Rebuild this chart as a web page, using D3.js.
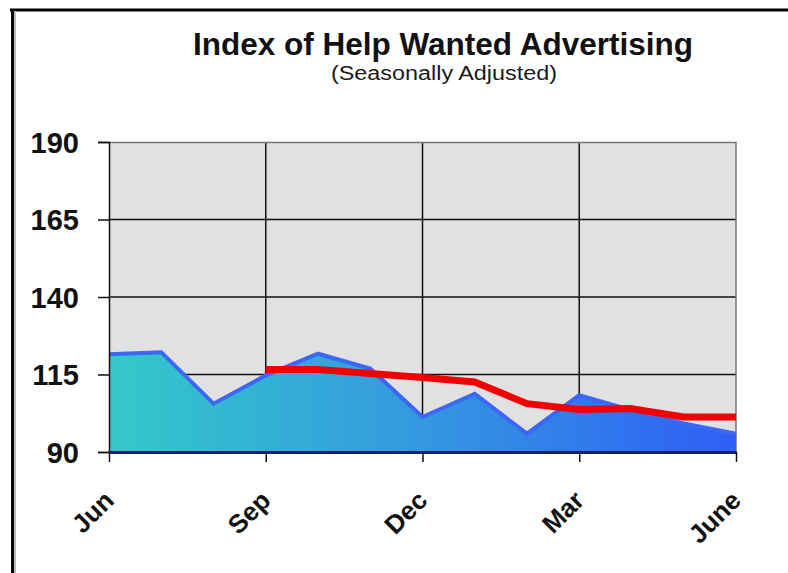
<!DOCTYPE html>
<html>
<head>
<meta charset="utf-8">
<script src="https://cdn.jsdelivr.net/npm/d3@7"></script>
<style>
  body { margin: 0; background: #fff; }
  svg { display: block; }
</style>
</head>
<body>
<script>
// Monthly index values, June through the following June
const months = ["Jun", "Jul", "Aug", "Sep", "Oct", "Nov", "Dec", "Jan", "Feb", "Mar", "Apr", "May", "June"];
const helpWanted = [121.5, 122.2, 105.6, 114.7, 121.7, 116.9, 101.3, 108.8, 95.9, 108.3, 103.5, 99.2, 95.9];

// Smoothed trend, starting in September
const trendMonths = ["Sep", "Oct", "Nov", "Dec", "Jan", "Feb", "Mar", "Apr", "May", "June"];
const trend = [116.6, 116.6, 115.3, 114.0, 112.6, 105.6, 103.7, 104.0, 101.3, 101.3];

// Axis labels
const xTickLabels = ["Jun", "Sep", "Dec", "Mar", "June"];
const yTickValues = [90, 115, 140, 165, 190];

const W = 788, H = 573;
const margin = { left: 109, right: 52, top: 142, bottom: 121 };
const plotW = W - margin.left - margin.right;
const plotH = H - margin.top - margin.bottom;
const FONT = "'Liberation Sans', Arial, sans-serif";

const svg = d3.select("body").append("svg")
  .attr("width", W).attr("height", H)
  .style("font-family", FONT);

// Frame lines along the top and left edges
svg.append("line").attr("x1", 10).attr("x2", W).attr("y1", 10).attr("y2", 10)
  .attr("stroke", "#000").attr("stroke-width", 3);
svg.append("line").attr("x1", 12.5).attr("x2", 12.5).attr("y1", 9).attr("y2", H)
  .attr("stroke", "#000").attr("stroke-width", 3);
svg.append("line").attr("x1", 15).attr("x2", 15).attr("y1", 11).attr("y2", H)
  .attr("stroke", "#bbb").attr("stroke-width", 2);

// Titles
svg.append("text").attr("x", 443).attr("y", 55)
  .attr("text-anchor", "middle").attr("font-size", 31).attr("font-weight", "bold")
  .attr("textLength", 500).attr("lengthAdjust", "spacingAndGlyphs")
  .attr("fill", "#111").text("Index of Help Wanted Advertising");
svg.append("text").attr("x", 444).attr("y", 80)
  .attr("text-anchor", "middle").attr("font-size", 20)
  .attr("textLength", 226).attr("lengthAdjust", "spacingAndGlyphs")
  .attr("fill", "#1a1a1a").text("(Seasonally Adjusted)");

const x = d3.scalePoint().domain(months).range([0, plotW]);
const y = d3.scaleLinear().domain([90, 190]).range([plotH, 0]);

const g = svg.append("g").attr("transform", `translate(${margin.left},${margin.top})`);

// Plot background
g.append("rect").attr("width", plotW).attr("height", plotH).attr("fill", "#e1e1e1");

// Gridlines
g.append("g").selectAll("line").data(yTickValues.slice(1, -1)).join("line")
  .attr("x1", 0).attr("x2", plotW).attr("y1", d => y(d)).attr("y2", d => y(d))
  .attr("stroke", "#111").attr("stroke-width", 1.5);
g.append("g").selectAll("line").data(xTickLabels.slice(1, -1)).join("line")
  .attr("x1", d => x(d)).attr("x2", d => x(d)).attr("y1", 0).attr("y2", plotH)
  .attr("stroke", "#111").attr("stroke-width", 1.5);
// Plot frame: top and right edges
g.append("path").attr("d", `M0,0.5H${plotW}V${plotH}`)
  .attr("fill", "none").attr("stroke", "#777").attr("stroke-width", 1.5);

// Area gradient, teal to blue
const defs = svg.append("defs");
const grad = defs.append("linearGradient").attr("id", "areaFill")
  .attr("gradientUnits", "userSpaceOnUse")
  .attr("x1", 0).attr("x2", plotW).attr("y1", 0).attr("y2", 0);
grad.append("stop").attr("offset", "0%").attr("stop-color", "#33c9c9");
grad.append("stop").attr("offset", "50%").attr("stop-color", "#3498e0");
grad.append("stop").attr("offset", "100%").attr("stop-color", "#2e5ef6");

const pts = months.map((m, i) => ({ m, v: helpWanted[i] }));
g.append("path").datum(pts)
  .attr("fill", "url(#areaFill)")
  .attr("d", d3.area().x(d => x(d.m)).y0(plotH).y1(d => y(d.v)));
g.append("path").datum(pts)
  .attr("fill", "none").attr("stroke", "#3b67f2").attr("stroke-width", 4)
  .attr("stroke-linejoin", "miter")
  .attr("d", d3.line().x(d => x(d.m)).y(d => y(d.v)));

// Trend line
const tpts = trendMonths.map((m, i) => ({ m, v: trend[i] }));
g.append("path").datum(tpts)
  .attr("fill", "none").attr("stroke", "#f00000").attr("stroke-width", 7)
  .attr("stroke-linejoin", "round")
  .attr("d", d3.line().x(d => x(d.m)).y(d => y(d.v)));

// Left axis
const yAxis = g.append("g")
  .call(d3.axisLeft(y).tickValues(yTickValues).tickSize(11).tickPadding(19));
yAxis.select(".domain").attr("stroke", "#111").attr("stroke-width", 1.5);
yAxis.selectAll(".tick line").attr("stroke", "#111").attr("stroke-width", 1.5);
yAxis.selectAll(".tick text")
  .attr("font-size", 29).attr("font-weight", "bold").attr("fill", "#111")
  .attr("font-family", FONT).attr("dy", "0.36em");

// Bottom axis
const xAxis = g.append("g").attr("transform", `translate(0,${plotH})`)
  .call(d3.axisBottom(x).tickValues(xTickLabels).tickSize(10).tickSizeOuter(0));
xAxis.select(".domain").attr("stroke", "#14206e").attr("stroke-width", 3);
xAxis.selectAll(".tick line").attr("stroke", "#111").attr("stroke-width", 1.5);
xAxis.selectAll(".tick text")
  .attr("font-size", 26).attr("font-weight", "bold").attr("fill", "#111")
  .attr("font-family", FONT)
  .attr("text-anchor", "end")
  .attr("x", 0).attr("y", 0).attr("dy", null)
  .attr("transform", "translate(6,50) rotate(-45)");
</script>
</body>
</html>
